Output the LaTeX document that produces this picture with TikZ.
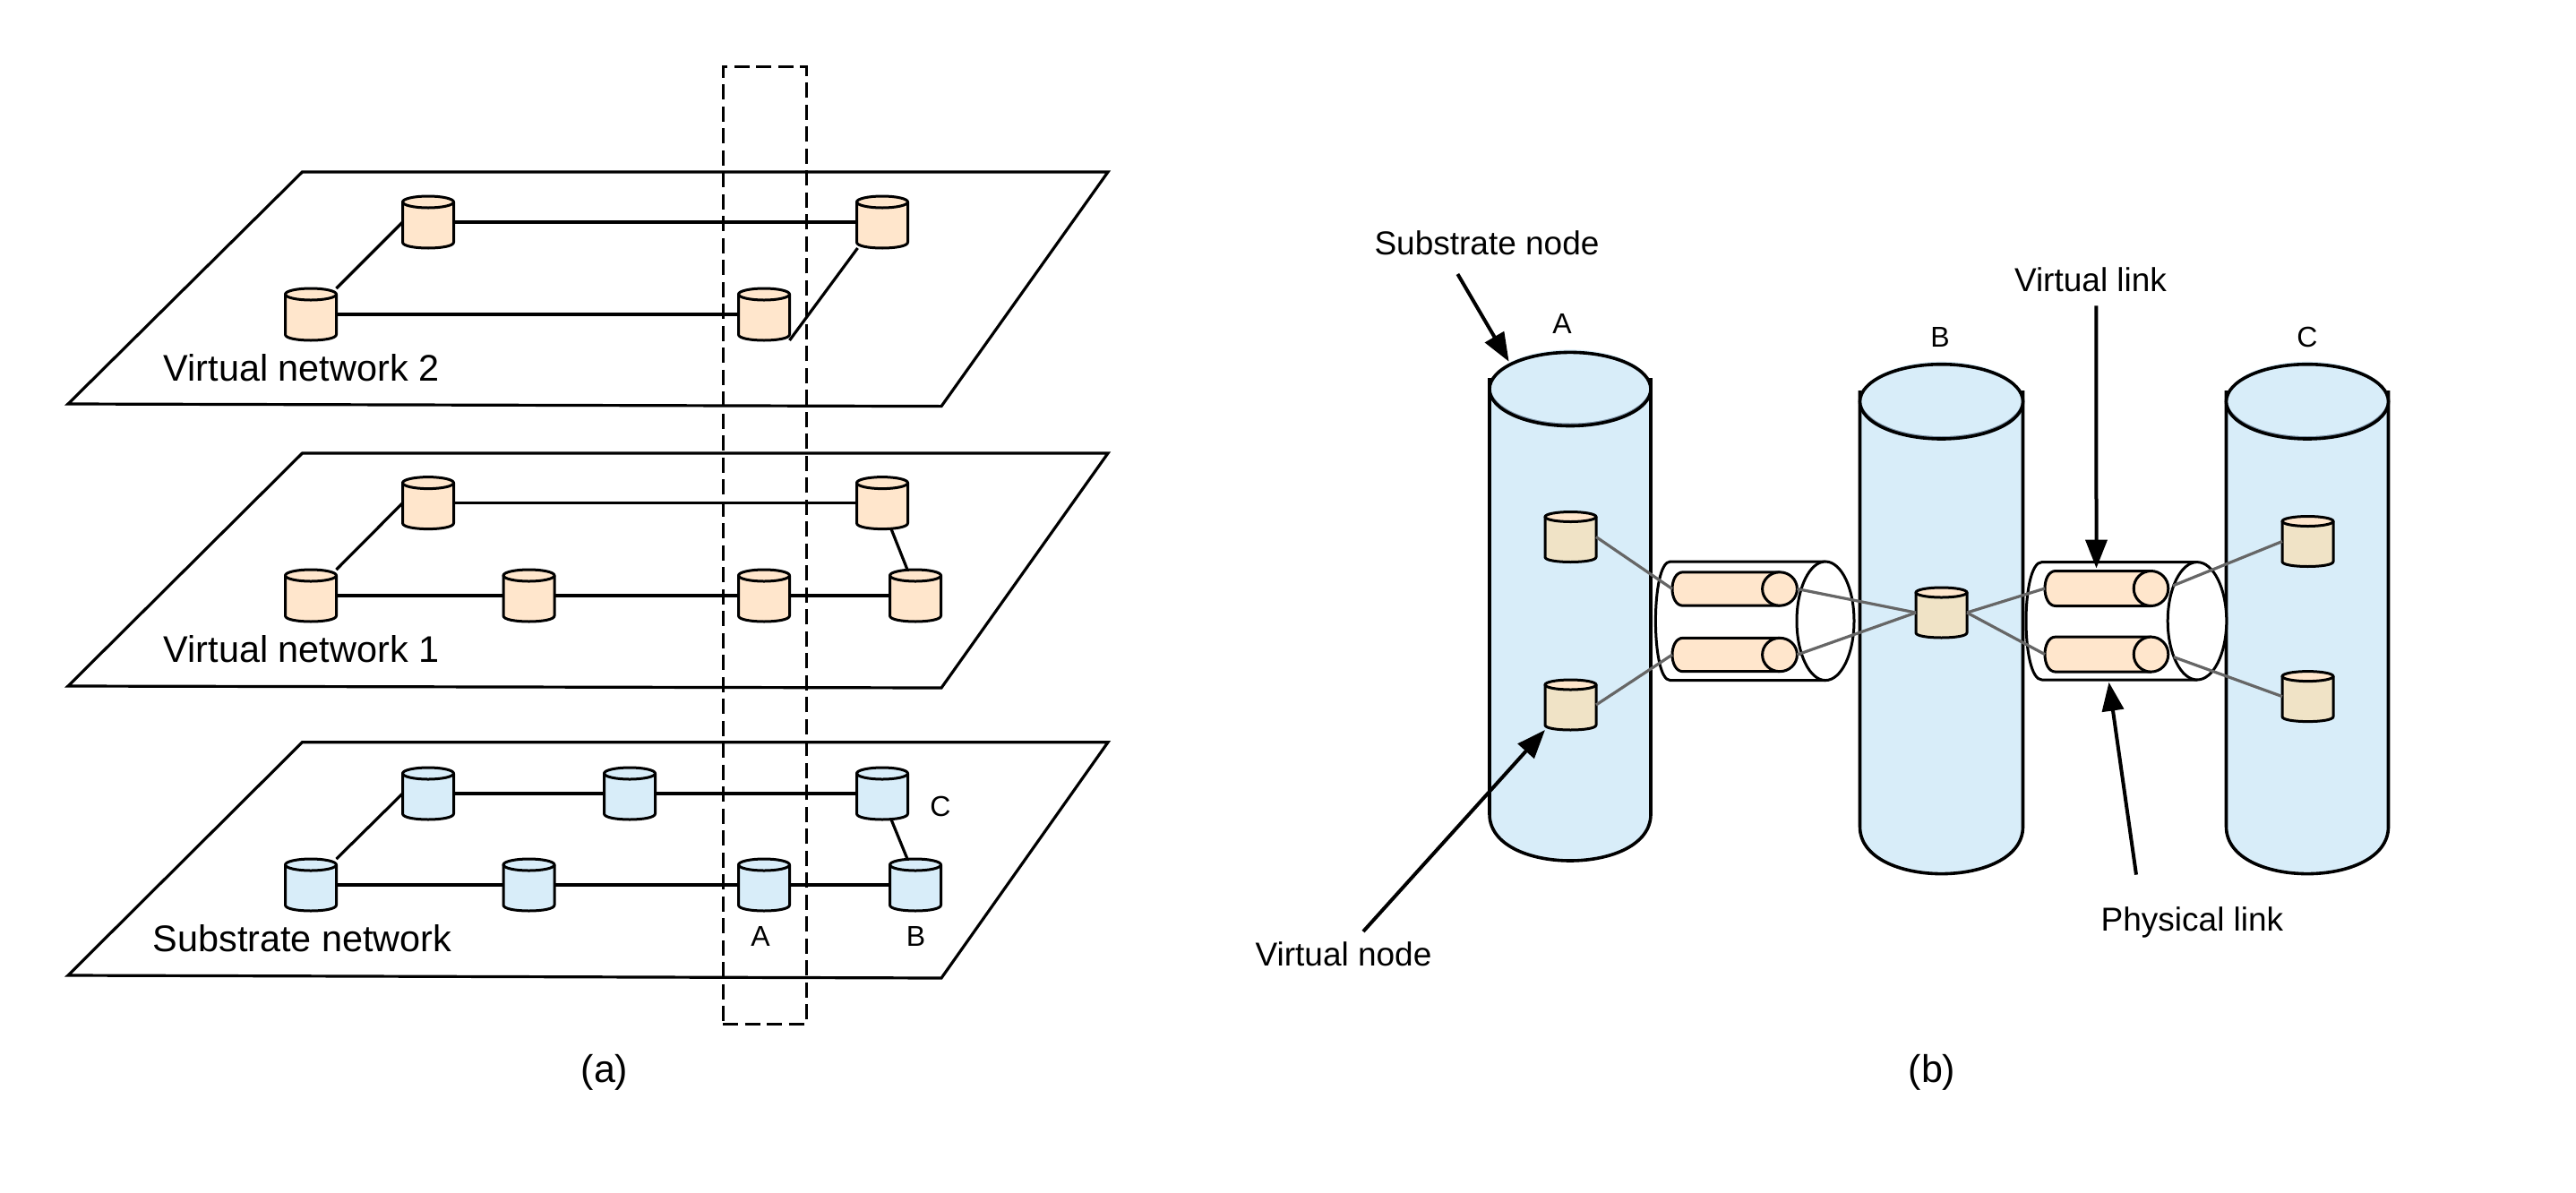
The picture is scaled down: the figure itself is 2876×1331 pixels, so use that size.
\documentclass[tikz,border=0pt]{standalone}
\usepackage{fontspec}
\setmainfont{Liberation Sans}
\usetikzlibrary{arrows.meta}
\definecolor{vorange}{HTML}{FFE6CC}
\definecolor{sblue}{HTML}{D8EDF9}
\definecolor{vtan}{HTML}{F0E3C6}
\definecolor{slate}{HTML}{7A8FA3}
\definecolor{glink}{HTML}{666666}
\tikzset{
  box/.style={rectangle,inner sep=0pt,outer sep=0pt},
  plane/.style={draw=black,line width=3.2pt,line join=miter},
  cylline/.style={draw=black,line width=3pt,line join=round},
  bigline/.style={draw=black,line width=3.6pt,line join=round},
  link/.style={draw=black,line width=3.2pt},
  glinkline/.style={draw=glink,line width=3.2pt},
  callout/.style={draw=black,line width=4pt,-{Triangle[length=32pt,width=24pt]}},
  lab/.style={inner sep=0pt,outer sep=0pt,anchor=base},
  biglab/.style={lab,font=\fontsize{41.4}{48}\selectfont},
  midlab/.style={lab,font=\fontsize{37}{44}\selectfont},
  letter/.style={lab,font=\fontsize{32}{38}\selectfont},
  caplab/.style={lab,font=\fontsize{43}{50}\selectfont},
  dashbox/.style={box,draw=black,line width=3pt,dash pattern=on 17pt off 7.5pt}
}
% small cylinder: name, cx, cy, w, h, ry, body colour, top colour
\newcommand{\smallcyl}[8]{%
  \node[box,minimum width=#4pt,minimum height=#5pt] (#1) at (#2,#3) {};
  \pgfmathsetmacro\myL{#2-#4/2}\pgfmathsetmacro\myR{#2+#4/2}%
  \pgfmathsetmacro\myT{#3-#5/2+#6}\pgfmathsetmacro\myB{#3+#5/2-#6}%
  \pgfmathsetmacro\myK{#3+#5/2+0.333*#6}%
  \path[cylline,fill=#7] (\myL,\myT) -- (\myL,\myB) .. controls (\myL,\myK) and (\myR,\myK) .. (\myR,\myB) -- (\myR,\myT) -- cycle;
  \path[cylline,fill=#8] (#2,\myT) ellipse[x radius={#4/2*1pt},y radius={#6*1pt}];
}
% big cylinder: name, cx, rx, ellipse top, ellipse bottom, wall top, wall bottom, very bottom
\newcommand{\bigcyl}[8]{%
  \pgfmathsetmacro\myL{#2-#3}\pgfmathsetmacro\myR{#2+#3}%
  \pgfmathsetmacro\myC{(#4+#5)/2}\pgfmathsetmacro\myRy{(#5-#4)/2}%
  \pgfmathsetmacro\myK{#7+1.333*(#8-#7)}\pgfmathsetmacro\myMid{(#4+#8)/2}\pgfmathsetmacro\myHt{#8-#4}%
  \node[box,minimum width={2*#3*1pt},minimum height=\myHt pt] (#1) at (#2,\myMid) {};
  \path[fill=sblue] (\myL,\myC) -- (\myL,#7) .. controls (\myL,\myK) and (\myR,\myK) .. (\myR,#7) -- (\myR,\myC) -- cycle;
  \path[bigline] (\myL,#6) -- (\myL,#7) .. controls (\myL,\myK) and (\myR,\myK) .. (\myR,#7) -- (\myR,#6);
  \path[fill=slate] (#2,\myC) ellipse[x radius={#3*1pt},y radius={\myRy*1pt}];
  \path[fill=sblue] (#2,{\myC-3}) ellipse[x radius={(#3-1)*1pt},y radius={\myRy*1pt}];
  \path[bigline] (#2,\myC) ellipse[x radius={#3*1pt},y radius={\myRy*1pt}];
}
% physical link tube: name, left x, straight start x, ellipse cx, rx, cy, ry
\newcommand{\phystube}[7]{%
  \pgfmathsetmacro\myT{#6-#7}\pgfmathsetmacro\myB{#6+#7}%
  \pgfmathsetmacro\myK{#3-1.333*(#3-#2)}%
  \pgfmathsetmacro\myW{#4+#5-#2}\pgfmathsetmacro\myMid{(#4+#5+#2)/2}\pgfmathsetmacro\myHt{2*#7}%
  \node[box,minimum width=\myW pt,minimum height=\myHt pt] (#1) at (\myMid,#6) {};
  \path[cylline,fill=white] (#4,\myT) -- (#3,\myT) .. controls (\myK,\myT) and (\myK,\myB) .. (#3,\myB) -- (#4,\myB) -- cycle;
  \path[cylline,fill=white] (#4,#6) ellipse[x radius={#5*1pt},y radius={#7*1pt}];
}
% virtual link: name, left x, cap cx, cap rx, cy, ry
\newcommand{\virttube}[6]{%
  \pgfmathsetmacro\myT{#5-#6}\pgfmathsetmacro\myB{#5+#6}%
  \pgfmathsetmacro\myS{#2+12}\pgfmathsetmacro\myK{#2-4}%
  \pgfmathsetmacro\myW{#3+#4-#2}\pgfmathsetmacro\myMid{(#3+#4+#2)/2}\pgfmathsetmacro\myHt{2*#6}%
  \node[box,minimum width=\myW pt,minimum height=\myHt pt] (#1) at (\myMid,#5) {};
  \path[cylline,fill=vorange] (#3,\myT) -- (\myS,\myT) .. controls (\myK,\myT) and (\myK,\myB) .. (\myS,\myB) -- (#3,\myB) -- cycle;
  \path[cylline,fill=vorange] (#3,#5) ellipse[x radius={#4*1pt},y radius={#6*1pt}];
}
\newcommand{\orangecyl}[3]{\smallcyl{#1}{#2}{#3}{57}{58}{6.5}{vorange}{vorange}}
\newcommand{\bluecyl}[3]{\smallcyl{#1}{#2}{#3}{57}{58}{6.5}{sblue}{sblue}}
\newcommand{\tancyl}[3]{\smallcyl{#1}{#2}{#3}{57}{56}{5.5}{vtan}{vorange}}
\begin{document}
\begin{tikzpicture}[x=1pt,y=-1pt]
\useasboundingbox (0,0) rectangle (2876,1331);
\path[fill=white] (0,0) rectangle (2876,1331);

% ---- (a) planes
\path[plane] (337.5,192) -- (1237,192) -- (1051,453.6) -- (76,451) -- cycle;
\path[plane] (337.5,506) -- (1237,506) -- (1051,768) -- (76,766) -- cycle;
\path[plane] (337.5,828.7) -- (1237,828.7) -- (1051,1092) -- (76,1089) -- cycle;

\node[dashbox,minimum width=93pt,minimum height=1068.5pt] (slice) at (853.5,609) {};

% virtual network 2
\orangecyl{vbA}{478}{248}
\orangecyl{vbB}{985}{248}
\orangecyl{vbC}{347}{351}
\orangecyl{vbD}{853}{351}
\draw[link] (vbA.east) -- (vbB.west);
\draw[link] (vbC.east) -- (vbD.west);
\draw[link] (vbA.west) -- (vbC.north east);
\draw[link] ([xshift=1pt]vbB.south west) -- ([yshift=-29pt]vbD.east);

% virtual network 1
\orangecyl{vaA}{478}{561.6}
\orangecyl{vaB}{985}{561.6}
\orangecyl{vaC}{347}{665}
\orangecyl{vaD}{590.5}{665}
\orangecyl{vaE}{853}{665}
\orangecyl{vaF}{1022}{665}
\draw[link] (vaA.east) -- (vaB.west);
\draw[link] (vaC.east) -- (vaD.west);
\draw[link] (vaD.east) -- (vaE.west);
\draw[link] (vaE.east) -- (vaF.west);
\draw[link] (vaA.west) -- (vaC.north east);
\draw[link] ([xshift=10pt]vaB.south) -- ([xshift=-9pt]vaF.north);

% substrate network
\bluecyl{snA}{478}{886}
\bluecyl{snB}{703}{886}
\bluecyl{snC}{985}{886}
\bluecyl{snD}{347}{988}
\bluecyl{snE}{590.5}{988}
\bluecyl{snF}{853}{988}
\bluecyl{snG}{1022}{988}
\draw[link] (snA.east) -- (snB.west);
\draw[link] (snB.east) -- (snC.west);
\draw[link] (snD.east) -- (snE.west);
\draw[link] (snE.east) -- (snF.west);
\draw[link] (snF.east) -- (snG.west);
\draw[link] (snA.west) -- (snD.north east);
\draw[link] ([xshift=10pt]snC.south) -- ([xshift=-9pt]snG.north);

\node[biglab] (tvb) at (336.7,425) {Virtual network 2};
\node[biglab] (tva) at (336.7,739) {Virtual network 1};
\node[biglab] (tsn) at (337.5,1062) {Substrate network};
\node[letter] (tlc) at (1050,911.5) {C};
\node[letter] (tla) at (849,1056) {A};
\node[letter] (tlb) at (1022.5,1056) {B};
\node[caplab] (capa) at (675,1208) {(a)};

% ---- (b) substrate cylinders
\bigcyl{cylA}{1753}{90}{393.4}{475.5}{422}{909}{961}
\bigcyl{cylB}{2167.5}{91}{406.7}{490}{436}{923}{975.6}
\bigcyl{cylC}{2576}{90.5}{406.7}{490}{436}{923}{975.6}

% physical links
\phystube{ptA}{1848.4}{1864.7}{2038}{32}{693.3}{66.3}
\phystube{ptB}{2262}{2279.6}{2453}{32.8}{693.3}{65.7}
% virtual links
\virttube{vlA}{1867}{1987}{19.4}{657.5}{18.7}
\virttube{vlB}{1867}{1987}{19.4}{731}{18.7}
\virttube{vlC}{2283}{2401.5}{19.3}{657}{19.5}
\virttube{vlD}{2283}{2401.5}{19.3}{730.6}{19.5}

% virtual nodes
\tancyl{ndA}{1753.5}{599.5}
\tancyl{ndB}{1753.5}{787}
\tancyl{ndC}{2167.5}{684}
\tancyl{ndD}{2576.5}{604.5}
\tancyl{ndE}{2576.5}{777.6}

\draw[glinkline] (ndA.east) -- (vlA.west);
\draw[glinkline] (ndB.east) -- (vlB.west);
\draw[glinkline] (vlA.east) -- (ndC.west);
\draw[glinkline] (vlB.east) -- (ndC.west);
\draw[glinkline] (ndC.east) -- (vlC.west);
\draw[glinkline] (ndC.east) -- (vlD.west);
\draw[glinkline] ([shift={(5,-3)}]vlC.east) -- (ndD.west);
\draw[glinkline] ([shift={(6,3)}]vlD.east) -- (ndE.west);

% labels and callouts
\node[midlab] (tsub) at (1660,284) {Substrate node};
\node[midlab] (tvn) at (1500,1078) {Virtual node};
\node[midlab] (tvl) at (2334,325) {Virtual link};
\node[midlab] (tpl) at (2447.5,1039.4) {Physical link};
\node[letter] (tA) at (1744,372) {A};
\node[letter] (tB) at (2166,387) {B};
\node[letter] (tC) at (2576,387) {C};
\node[caplab] (capb) at (2157,1208) {(b)};

\coordinate (fromsub) at (1627.4,306);
\coordinate (fromvn) at (1522,1040);
\coordinate (fromvl) at (2340.4,341.4);
\coordinate (frompl) at (2385,976.6);
\draw[callout] (fromsub) -- ([shift={(-68.4,10.3)}]cylA.north);
\draw[callout] (fromvn) -- (ndB.south west);
\draw[callout] (fromvl) -- ([shift={(-11.4,-3)}]vlC.north);
\draw[callout] (frompl) -- ([shift={(-19.4,2.7)}]ptB.south);
\end{tikzpicture}
\end{document}
